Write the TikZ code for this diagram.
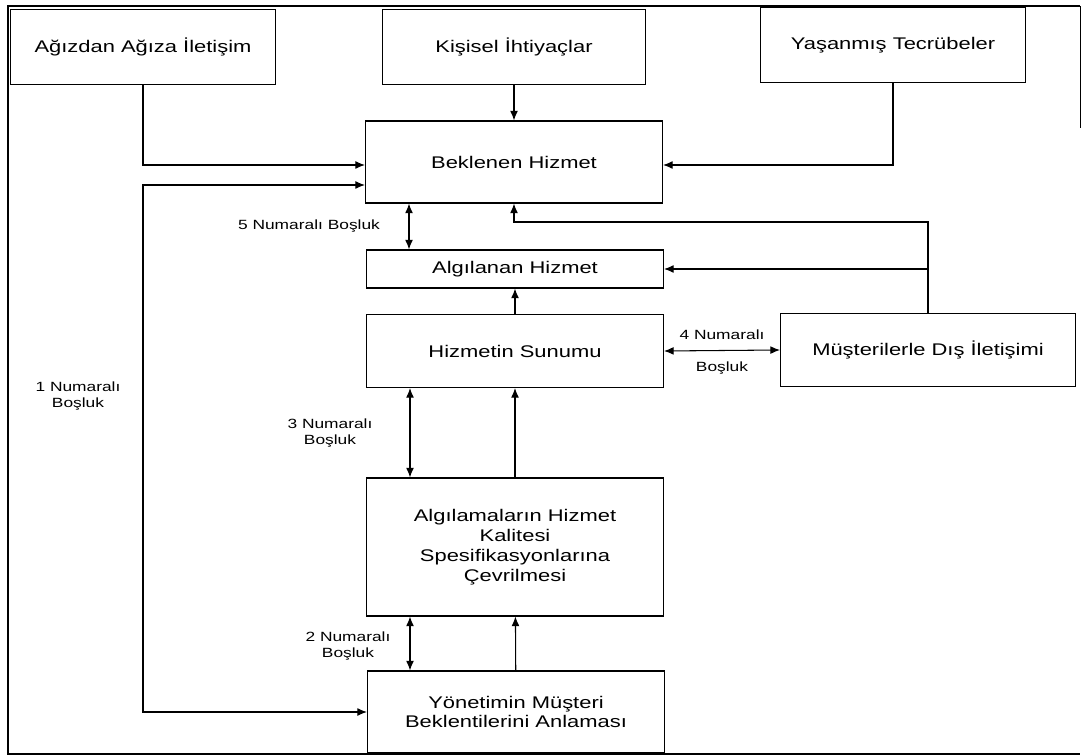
\documentclass[tikz,border=0pt]{standalone}
\usepackage{fontspec}
\setmainfont{Liberation Sans}[FakeStretch=1.3]
\usetikzlibrary{arrows.meta}

\begin{document}
\begin{tikzpicture}[x=0.02cm,y=-0.02cm,>={Latex[length=5.5pt,width=4.5pt]}]
\tikzstyle{b}=[draw,line width=0.6pt,align=center,inner sep=0pt,minimum width=5.94cm,font=\fontsize{9.6}{11.3}\selectfont]
\tikzstyle{top}=[b,minimum width=5.3cm,minimum height=1.5cm]
\tikzstyle{lbl}=[align=center,inner sep=1pt,font=\fontsize{7.6}{9}\selectfont]
\useasboundingbox (0,0) rectangle (1081,756);
   % frame
   \draw [line width=1.1pt] (1080,6) -- (8,6) -- (8,754) -- (1080,754);
   \draw [line width=0.4pt] (1080,6) -- (1080,128);

   \draw (143,47) node (agz) [top] {Ağızdan Ağıza İletişim};
   \draw (514,47) node (ihty) [top,minimum width=5.26cm] {Kişisel İhtiyaçlar};
   \draw (893,45) node (tecr) [top] {Yaşanmış Tecrübeler};

   \draw (514,162) node (bek) [b,minimum height=1.64cm] {Beklenen Hizmet};
   \draw (515,269) node (alg) [b,minimum height=0.76cm] {Algılanan Hizmet};
   \draw (515,351) node (sun) [b,minimum height=1.46cm] {Hizmetin Sunumu};
   \draw (928,350) node (mus) [b,minimum width=5.9cm,minimum height=1.46cm] {Müşterilerle Dış İletişimi};
   \draw (515,547) node (cev) [b,minimum height=2.76cm] {Algılamaların Hizmet\\Kalitesi\\Spesifikasyonlarına\\Çevrilmesi};
   \draw (516,712) node (yon) [b,minimum height=1.64cm] {Yönetimin Müşteri\\Beklentilerini Anlaması};

   \draw (309,226) node (g5) [lbl] {5 Numaralı Boşluk};
   \draw (78,396) node (g1) [lbl] {1 Numaralı\\Boşluk};
   \draw (330,433) node (g3) [lbl] {3 Numaralı\\Boşluk};
   \draw (348,646) node (g2) [lbl] {2 Numaralı\\Boşluk};

   \path [draw,line width=0.6pt,->] (agz.south) |- (bek.west |- 0,165);
   \path [draw,line width=0.6pt,->] (ihty) -- (bek);
   \path [draw,line width=0.6pt,->] (tecr.south) |- (bek.east |- 0,165);
   \path [draw,line width=0.6pt,<->] (bek.west |- 0,185) -| (agz.south |- yon.west) -- (yon.west);
   \path [draw,line width=0.6pt,<->] (bek.south -| 409,0) -- (alg.north -| 409,0);
   \path [draw,line width=0.6pt,->] (mus.north) |- (bek.south |- 0,222) -- (bek.south);
   \path [draw,line width=0.6pt,->] (mus.north |- alg.east) -- (alg.east);
   \path [draw,line width=0.6pt,->] (sun) -- (alg);
   \path [draw,line width=0.6pt,<->] (sun.east) -- (mus.west)
      node [lbl,midway,above=5pt] {4 Numaralı} node [lbl,midway,below=5pt] {Boşluk};
   \path [draw,line width=0.6pt,<->] (sun.south -| 410,0) -- (cev.north -| 410,0);
   \path [draw,line width=0.6pt,->] (cev) -- (sun);
   \path [draw,line width=0.6pt,<->] (cev.south -| 410,0) -- (yon.north -| 410,0);
   \path [draw,line width=0.6pt,->] (yon) -- (cev);
\end{tikzpicture}
\end{document}
